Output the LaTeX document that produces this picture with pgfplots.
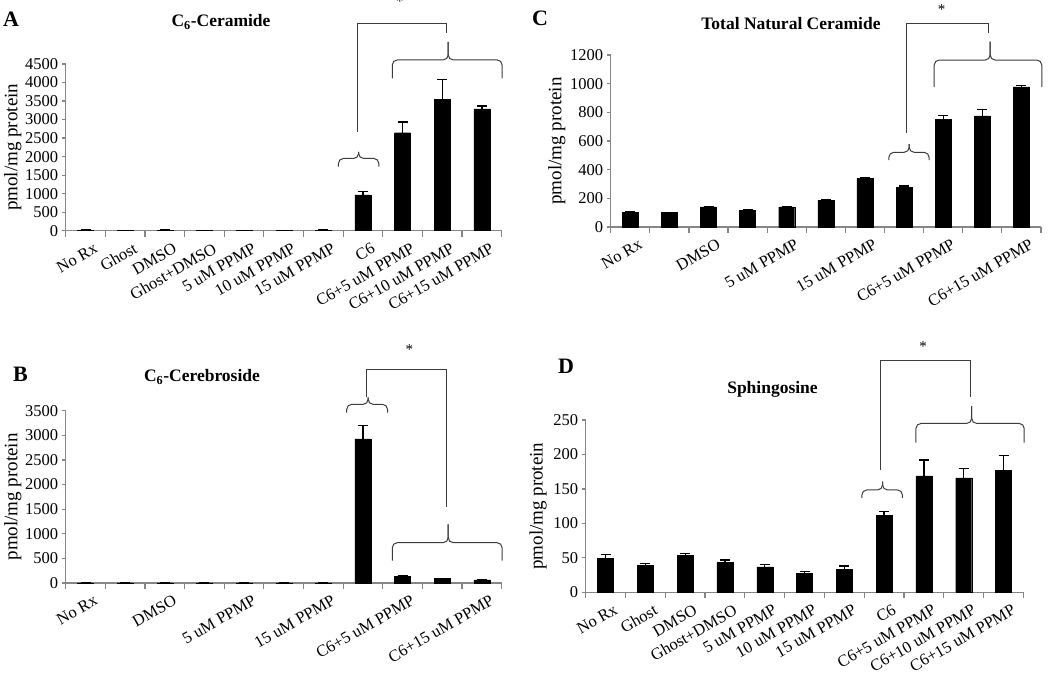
\documentclass[border=0pt]{standalone}
\usepackage{fontspec}
\setmainfont{Liberation Serif}
\usepackage{pgfplots}
\pgfplotsset{compat=1.18}
\usepackage{pgfplotstable}

\pgfplotstableread{
x y e
0 12 3
1 5 2
2 15 3
3 5 2
4 5 2
5 10 3
6 12 3
7 965 90
8 2645 290
9 3545 540
10 3290 75
}\dataA
\pgfplotstableread{
x y e
0 5 1
1 5 1
2 5 1
3 5 1
4 5 1
5 5 1
6 5 1
7 2930 265
8 135 10
9 90 8
10 62 6
}\dataB
\pgfplotstableread{
x y e
0 103 3
1 100 3
2 140 5
3 117 3
4 140 4
5 185 3
6 340 5
7 278 8
8 750 28
9 775 45
10 978 10
}\dataC
\pgfplotstableread{
x y e
0 49 6
1 39 3
2 54 2
3 43 4
4 37 3
5 27 3
6 33 5
7 112 5
8 169 23
9 166 14
10 177 21
}\dataD

\definecolor{axgray}{RGB}{134,134,134}
\definecolor{brk}{RGB}{60,60,60}

\pgfplotsset{
 panel/.style={
  scale only axis, anchor=south west,
  ybar, bar width=16pt, bar shift=0pt,
  xmin=-0.5, xmax=10.5, ymin=0,
  xtick={0,...,10}, minor xtick={-0.5,0.5,...,10.5},
  major x tick style={draw=none},
  minor x tick style={draw=axgray, line width=1.2pt},
  minor tick length=6pt, major tick length=4pt,
  tick align=outside,
  axis x line*=bottom, axis y line*=left,
  axis line style={-, draw=axgray, line width=1.3pt},
  y tick style={draw=axgray, line width=1.2pt},
  tick label style={font=\fontsize{16.5}{18}\selectfont},
  xticklabel style={rotate=30, anchor=north east, inner sep=1pt, yshift=-9pt, xshift=4pt},
  /pgf/number format/assume math mode=true,
  /pgf/number format/1000 sep={},
  ylabel={pmol/mg protein},
  ylabel style={font=\fontsize{19}{21}\selectfont, anchor=center},
  clip=false,
 },
 bars/.style={fill=black, draw=black,
  error bars/.cd, y dir=plus, y explicit,
  error bar style={line width=1.3pt, black},
  error mark options={rotate=90, mark size=5pt, line width=1.3pt, black}},
}

% brace: x1, xm, x2, yend, yh, ytip
\newcommand{\brc}[6]{%
 \draw[brk, line width=1pt, rounded corners=5pt] (axis cs:#1,#4) -- (axis cs:#1,#5) -- (axis cs:#2,#5) -- (axis cs:#2,#6);
 \draw[brk, line width=1pt, rounded corners=5pt] (axis cs:#3,#4) -- (axis cs:#3,#5) -- (axis cs:#2,#5) -- (axis cs:#2,#6);
}
% connector: x1, ylow1, ytop, x2, ylow2
\newcommand{\conn}[5]{%
 \draw[brk, line width=1pt] (axis cs:#1,#2) -- (axis cs:#1,#3) -- (axis cs:#4,#3) -- (axis cs:#4,#5);
}

\begin{document}
\begin{tikzpicture}[x=1pt,y=1pt]
\useasboundingbox (0,0) rectangle (1050,674);

% ---------- Panel A ----------
\begin{axis}[panel, at={(65.7pt,443.3pt)}, width=436pt, height=166.7pt,
  ymax=4500, ytick={0,500,...,4500},
  xticklabels={No Rx,Ghost,DMSO,Ghost+DMSO,5 uM PPMP,10 uM PPMP,15 uM PPMP,C6,C6+5 uM PPMP,C6+10 uM PPMP,C6+15 uM PPMP},
  ylabel style={at={(axis description cs:-0.121,0.5)}}]
\addplot[bars] table[x=x, y=y, y error=e] {\dataA};
\brc{6.38}{6.89}{7.40}{1730}{1950}{2130}
\conn{6.85}{2670}{5600}{9.11}{5350}
\brc{7.74}{9.15}{10.51}{4110}{4610}{5100}
\node[font=\fontsize{15}{15}\selectfont] at (axis cs:7.93,6180) {*};
\end{axis}

% ---------- Panel B ----------
\begin{axis}[panel, at={(65.7pt,91pt)}, width=436pt, height=172.3pt,
  ymax=3500, ytick={0,500,...,3500},
  xticklabels={No Rx,{},DMSO,{},5 uM PPMP,{},15 uM PPMP,{},C6+5 uM PPMP,{},C6+15 uM PPMP},
  ylabel style={at={(axis description cs:-0.121,0.5)}}]
\addplot[bars] table[x=x, y=y, y error=e] {\dataB};
\brc{6.59}{7.13}{7.62}{3459}{3629}{3771}
\conn{7.10}{3771}{4340}{9.11}{1550}
\brc{7.74}{9.15}{10.51}{454}{819}{1192}
\node[font=\fontsize{15}{15}\selectfont] at (axis cs:8.17,4740) {*};
\end{axis}

% ---------- Panel C ----------
\begin{axis}[panel, at={(610.7pt,447pt)}, width=430.3pt, height=172pt,
  ymax=1200, ytick={0,200,...,1200},
  xticklabels={No Rx,{},DMSO,{},5 uM PPMP,{},15 uM PPMP,{},C6+5 uM PPMP,{},C6+15 uM PPMP},
  ylabel style={at={(axis description cs:-0.125,0.5)}}]
\addplot[bars] table[x=x, y=y, y error=e] {\dataC};
\brc{6.61}{7.13}{7.64}{467}{521}{579}
\conn{7.07}{658}{1421}{9.15}{1356}
\brc{7.77}{9.20}{10.52}{975}{1165}{1293}
\node[font=\fontsize{15}{15}\selectfont] at (axis cs:7.96,1520) {*};
\end{axis}

% ---------- Panel D ----------
\begin{axis}[panel, at={(585.7pt,81.7pt)}, width=437.7pt, height=172.3pt,
  ymax=250, ytick={0,50,...,250},
  xticklabels={No Rx,Ghost,DMSO,Ghost+DMSO,5 uM PPMP,10 uM PPMP,15 uM PPMP,C6,C6+5 uM PPMP,C6+10 uM PPMP,C6+15 uM PPMP},
  ylabel style={at={(axis description cs:-0.109,0.5)}}]
\addplot[bars] table[x=x, y=y, y error=e] {\dataD};
\brc{6.44}{6.96}{7.46}{137}{148.5}{160.6}
\conn{6.90}{177.5}{336}{9.16}{284}
\brc{7.80}{9.20}{10.52}{217}{245}{270}
\node[font=\fontsize{15}{15}\selectfont] at (axis cs:7.98,356) {*};
\end{axis}

% ---------- Titles and panel letters ----------
\node[anchor=base, font=\bfseries\fontsize{17.5}{19}\selectfont] at (221,647.3) {C\textsubscript{6}-Ceramide};
\node[anchor=base, font=\bfseries\fontsize{17.5}{19}\selectfont] at (202,292.3) {C\textsubscript{6}-Cerebroside};
\node[anchor=base, font=\bfseries\fontsize{17.5}{19}\selectfont] at (791,644.7) {Total Natural Ceramide};
\node[anchor=base, font=\bfseries\fontsize{17.5}{19}\selectfont] at (772.5,280) {Sphingosine};

\node[anchor=base west, inner sep=0pt, font=\bfseries\fontsize{22}{24}\selectfont] at (3,647.3) {A};
\node[anchor=base west, inner sep=0pt, font=\bfseries\fontsize{22}{24}\selectfont] at (13,292.3) {B};
\node[anchor=base west, inner sep=0pt, font=\bfseries\fontsize{22}{24}\selectfont] at (532,648.3) {C};
\node[anchor=base west, inner sep=0pt, font=\bfseries\fontsize{22}{24}\selectfont] at (558,300.7) {D};
\end{tikzpicture}
\end{document}
